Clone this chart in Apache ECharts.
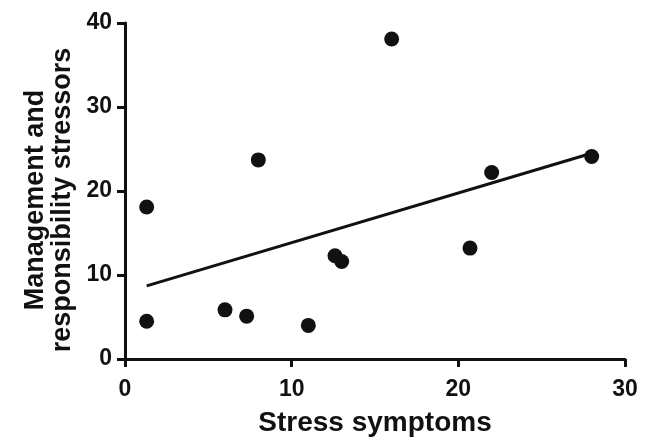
<!DOCTYPE html>
<html><head><meta charset="utf-8">
<script src="https://cdn.jsdelivr.net/npm/echarts@6/dist/echarts.min.js"></script>
<style>html,body{margin:0;padding:0;background:#fff}#c{width:652px;height:437px}</style>
</head><body><div id="c"></div>
<script>
const xValues = [1.3, 1.3, 6.0, 7.3, 8.0, 11.0, 12.6, 13.0, 16.0, 20.7, 22.0, 28.0];
const yValues = [18.1, 4.5, 5.85, 5.1, 23.7, 4.0, 12.3, 11.6, 38.1, 13.2, 22.2, 24.1];
const fitX = [1.3, 28.0];
const fitY = [8.7, 24.5];
const xTicks = [0, 10, 20, 30];
const yTicks = [0, 10, 20, 30, 40];
const xTitle = 'Stress symptoms';
const yTitle = 'Management and\nresponsibility stressors';

const pts = xValues.map((x, i) => [x, yValues[i]]);
const fit = fitX.map((x, i) => [x, fitY[i]]);
const font = 'Liberation Sans, Arial, sans-serif';
const axisCommon = {
  type: 'value',
  axisLine: {show: true, lineStyle: {color: '#111', width: 3}},
  axisTick: {show: true, length: 8, lineStyle: {color: '#111', width: 3}},
  splitLine: {show: false},
  axisLabel: {color: '#111', fontFamily: font, fontSize: 23, fontWeight: 'bold'},
  nameLocation: 'middle',
  nameTextStyle: {color: '#111', fontFamily: font, fontSize: 28, fontWeight: 'bold'}
};
const chart = echarts.init(document.getElementById('c'));
chart.setOption({
  animation: false,
  backgroundColor: '#fff',
  grid: {left: 125, right: 27, top: 23, bottom: 78, containLabel: false, outerBoundsMode: 'none'},
  xAxis: Object.assign({}, axisCommon, {
    min: xTicks[0], max: xTicks[xTicks.length - 1], interval: 10,
    axisLabel: Object.assign({}, axisCommon.axisLabel, {margin: 19}),
    name: xTitle, nameGap: 50
  }),
  yAxis: Object.assign({}, axisCommon, {
    min: yTicks[0], max: yTicks[yTicks.length - 1], interval: 10,
    axisLabel: Object.assign({}, axisCommon.axisLabel, {margin: 13}),
    name: ''
  }),
  graphic: [{
    type: 'text',
    x: 49, y: 200,
    rotation: Math.PI / 2,
    style: {
      text: yTitle, fill: '#111', fontFamily: font, fontSize: 27, fontWeight: 'bold',
      lineHeight: 27, align: 'center', verticalAlign: 'middle'
    }
  }],
  series: [
    {type: 'line', data: fit, symbol: 'none', lineStyle: {color: '#111', width: 3}, z: 2},
    {type: 'scatter', data: pts, symbol: 'circle', symbolSize: 15, itemStyle: {color: '#111', opacity: 1}, z: 3}
  ]
});
</script></body></html>
